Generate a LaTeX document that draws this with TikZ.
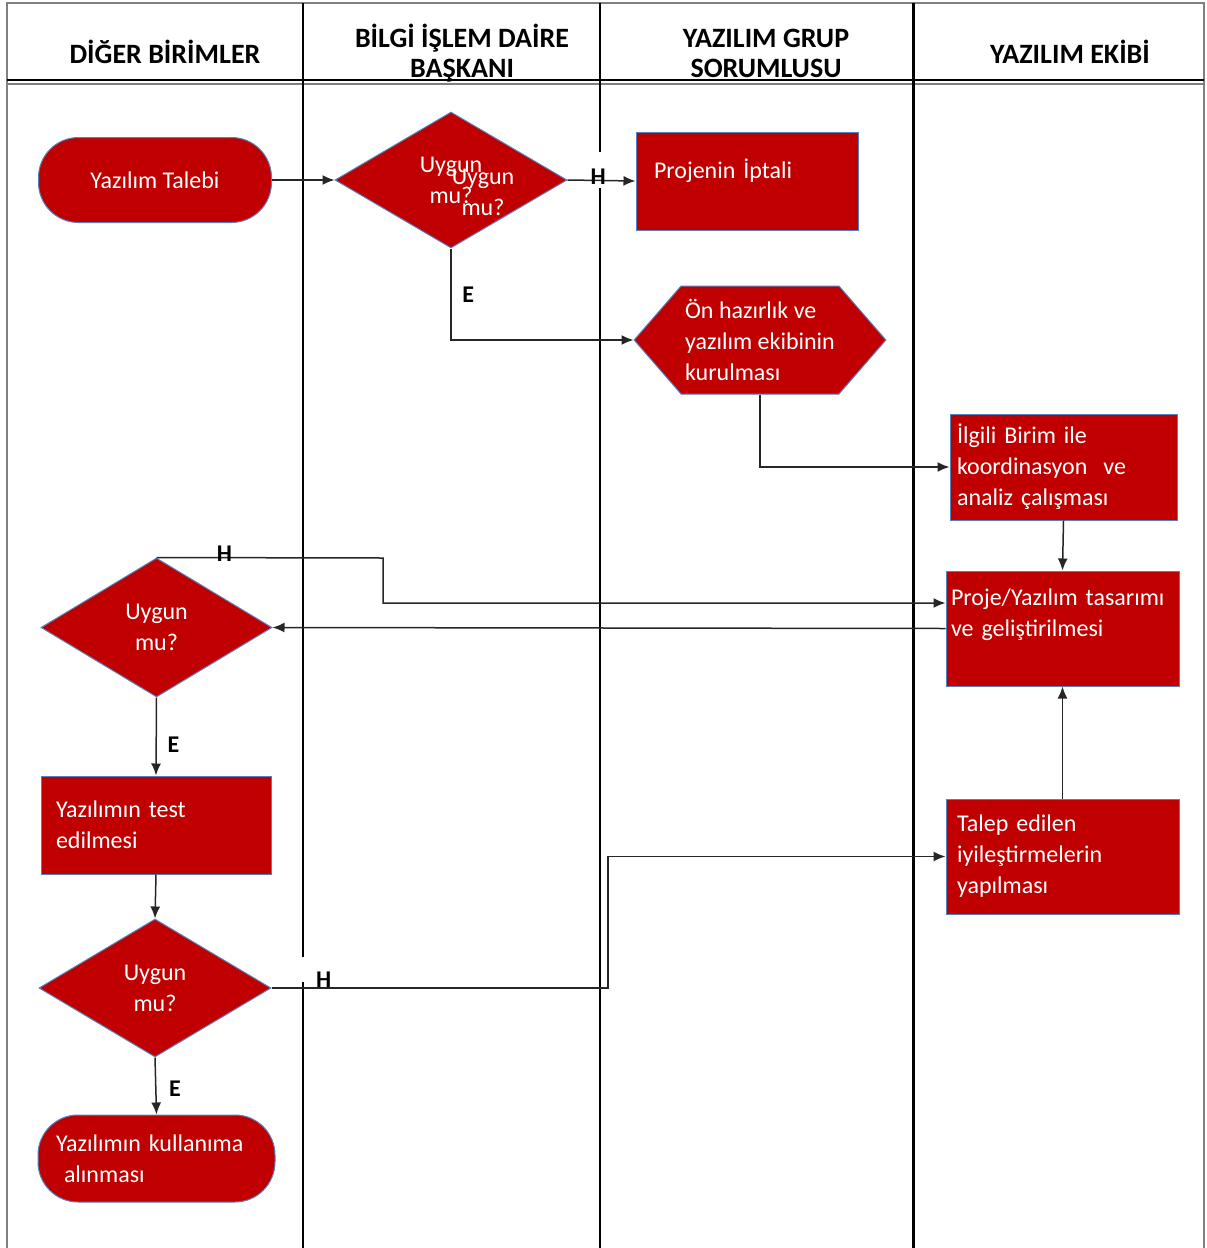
\documentclass[tikz,border=0pt]{standalone}
\usepackage{fontspec}
\setmainfont{Carlito}
\usetikzlibrary{shapes.geometric,shapes.symbols,arrows.meta}
\definecolor{koyukirmizi}{RGB}{192,0,0}
\definecolor{kenar}{RGB}{84,130,190}

\begin{document}
\begin{tikzpicture}[x=0.5pt, y=-0.5pt,
  >={Latex[length=6pt,width=5pt]},
  lane/.style = {line width=0.8pt},
  head/.style = {font=\fontsize{14}{15}\selectfont\bfseries, align=center},
  box/.style = {draw=kenar, fill=koyukirmizi, text=white, line width=0.5pt, inner sep=2pt, font=\fontsize{12}{15.5}\selectfont, align=left},
  term/.style = {box, rounded corners=20pt},
  dec/.style = {box, diamond, inner sep=0pt, align=center},
  hexa/.style = {box, signal, signal to=west and east, signal pointer angle=98},
  conn/.style = {->, line width=0.75pt, draw=black!85},
  lbl/.style = {font=\fontsize{12}{14}\selectfont\bfseries}]
    \useasboundingbox (0,0) rectangle (1206,1248);

    % lanes
    \draw[gray, line width=1.2pt] (7,1248) -- (7,3) -- (1204,3) -- (1204,1248);
    \draw[line width=1pt] (7,80) -- (1204,80);
    \draw[gray, line width=1pt] (7,83.5) -- (1204,83.5);
    \draw[lane] (303,3) -- (303,957) (303,982) -- (303,1248);
    \draw[lane] (600,3) -- (600,152) (600,188) -- (600,1248);
    \draw[lane, line width=1.5pt] (913,3) -- (913,1248);

    \node[head] (diger) at (165,52) {DİĞER BİRİMLER};
    \node[head] (bilgi) at (462,53) {BİLGİ İŞLEM DAİRE\\BAŞKANI};
    \node[head] (grup) at (766,53) {YAZILIM GRUP\\SORUMLUSU};
    \node[head] (ekip) at (1070,52) {YAZILIM EKİBİ};

    % shapes
    \node[term, minimum width=116.5pt, minimum height=42.5pt, align=center] (talebi) at (155,180) {Yazılım Talebi};
    \node[dec, minimum width=116pt, minimum height=68pt] (uygun1) at (451,180) {Uygun\\mu?};
    \node[text=white, font=\fontsize{12}{15.5}\selectfont, align=center] (uygun1b) at (483,192) {Uygun\\mu?};
    \node[box, minimum width=111pt, minimum height=49pt, text width=93pt, text depth=12pt] (iptal) at (747,181) {Projenin İptali};
    \node[hexa, minimum width=124pt, minimum height=54pt] (hazirlik) at (760,340) {Ön hazırlık ve\\yazılım ekibinin\\kurulması};
    \node[box, minimum width=113.5pt, minimum height=53pt, text width=106.5pt] (ilgili) at (1063.5,467) {İlgili Birim ile\\koordinasyon~ ve\\analiz çalışması};
    \node[box, minimum width=116.5pt, minimum height=57.5pt, text width=111.5pt] (proje) at (1062.5,628.5) {Proje/Yazılım tasarımı\\ve geliştirilmesi\\\mbox{}};
    \node[box, minimum width=116.5pt, minimum height=57.5pt, text width=105.5pt] (talep) at (1062.5,856.5) {Talep edilen\\iyileştirmelerin\\yapılması};
    \node[dec, minimum width=115.5pt, minimum height=69.5pt] (uygun2) at (156.5,627.5) {Uygun\\mu?};
    \node[box, minimum width=115pt, minimum height=49pt, text width=100pt] (test) at (156,825) {Yazılımın test\\edilmesi};
    \node[dec, minimum width=116pt, minimum height=69pt] (uygun3) at (155,988) {Uygun\\mu?};
    \node[term, minimum width=118.5pt, minimum height=43.5pt, text width=100.5pt] (kullanim) at (156.5,1158.5) {Yazılımın kullanıma\\\ alınması};

    % connectors
    \draw[conn] (talebi.east) -- (uygun1.west);
    \draw[conn] (uygun1.east) -- node[lbl, pos=.45, yshift=2pt] {H} (iptal.west);
    \draw[conn] (uygun1.south) |- node[lbl, right, pos=.25, xshift=2pt] {E} (hazirlik.west);
    \draw[conn] (hazirlik.south) |- (ilgili.west);
    \draw[conn] (ilgili.south) -- (proje.north);
    \draw[conn] (uygun2.north) -- node[lbl, pos=.3, yshift=2pt] {H} (383,558) |- ([yshift=12.75pt]proje.west);
    \draw[conn] (proje.west) -- (uygun2.east);
    \draw[conn] (uygun2.south) -- node[lbl, right, pos=.6, xshift=2pt] {E} (test.north);
    \draw[conn] (test.south) -- (uygun3.north);
    \draw[conn] (uygun3.east) -- node[lbl, pos=.155, yshift=4pt] {H} (608,988) |- (talep.west);
    \draw[conn] (uygun3.south) -- node[lbl, right, pos=.55, xshift=3pt] {E} (kullanim.north);
    \draw[conn] (talep.north) -- (proje.south);
\end{tikzpicture}
\end{document}
